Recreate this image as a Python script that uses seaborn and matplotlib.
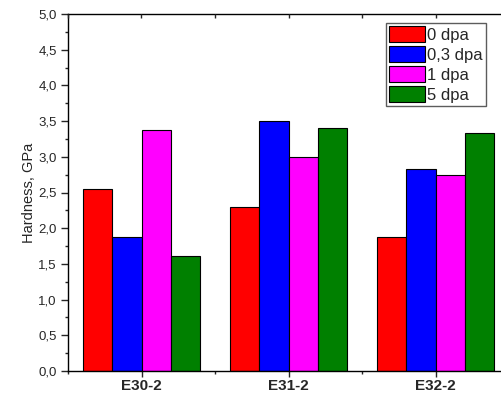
import matplotlib
matplotlib.use("Agg")
import matplotlib.pyplot as plt
import seaborn as sns
import pandas as pd
from matplotlib.ticker import MultipleLocator, FuncFormatter

samples = ["E30-2", "E31-2", "E32-2"]
doses = ["0 dpa", "0,3 dpa", "1 dpa", "5 dpa"]
h_0 = [2.55, 2.30, 1.87]
h_03 = [1.88, 3.50, 2.83]
h_1 = [3.38, 3.00, 2.75]
h_5 = [1.61, 3.40, 3.34]
colors = ["#FF0000", "#0000FF", "#FF00FF", "#008000"]

rows = []
for dose, vals in zip(doses, [h_0, h_03, h_1, h_5]):
    for s, v in zip(samples, vals):
        rows.append({"sample": s, "dose": dose, "hardness": v})
df = pd.DataFrame(rows)

sns.set_style("ticks")
plt.rcParams["font.family"] = ["Liberation Sans", "DejaVu Sans"]

W, H = 501, 396
fig = plt.figure(figsize=(W / 100, H / 100), dpi=100)
ax = fig.add_axes([68 / W, 1 - 371 / H, 441 / W, 357 / H])

sns.barplot(data=df, x="sample", y="hardness", hue="dose", order=samples,
            hue_order=doses, palette=colors, width=0.8, saturation=1,
            edgecolor="black", linewidth=0.8, ax=ax, errorbar=None)

ax.set_xlim(-0.5, 2.5)
ax.set_ylim(0, 5.0)
ax.set_xlabel("")
ax.set_ylabel("Hardness, GPa", fontsize=10.5, labelpad=1.5)

ax.yaxis.set_major_locator(MultipleLocator(0.5))
ax.yaxis.set_minor_locator(MultipleLocator(0.25))
ax.yaxis.set_major_formatter(FuncFormatter(lambda v, p: f"{v:.1f}".replace(".", ",")))
ax.xaxis.set_minor_locator(MultipleLocator(0.5))

for lab in ax.get_xticklabels():
    lab.set_fontweight("bold")
ax.tick_params(axis="x", which="major", direction="out", length=4, width=1,
               labelsize=11, pad=2, top=False)
ax.tick_params(axis="x", which="minor", direction="out", length=2.5, width=1, top=False)
ax.tick_params(axis="y", which="major", direction="out", length=5, width=1,
               labelsize=9.5, pad=3)
ax.tick_params(axis="y", which="minor", direction="out", length=2.5, width=1)

for sp in ax.spines.values():
    sp.set_visible(True)
    sp.set_linewidth(1.0)
    sp.set_color("black")

# top axis: inward ticks without labels
axt = ax.twiny()
axt.set_xlim(ax.get_xlim())
axt.xaxis.set_major_locator(MultipleLocator(0.5))
axt.tick_params(axis="x", which="major", direction="in", length=3, width=1,
                labeltop=False, top=True, bottom=False)
axt.tick_params(axis="y", left=False, right=False, labelleft=False, labelright=False)
for sp in axt.spines.values():
    sp.set_visible(False)

handles, labels = ax.get_legend_handles_labels()
if ax.get_legend() is not None:
    ax.get_legend().remove()
leg = axt.legend(handles, labels, loc="upper left",
                 bbox_to_anchor=(386 / W, 1 - 23 / H), bbox_transform=fig.transFigure,
                 fontsize=12, frameon=True, fancybox=False, labelspacing=0.2,
                 handlelength=2.15, handleheight=1.08, handletextpad=0.12,
                 borderpad=0.2, borderaxespad=0)
leg.get_frame().set_edgecolor("#333333")
leg.get_frame().set_linewidth(1.0)

fig.savefig("out.png", dpi=100)
